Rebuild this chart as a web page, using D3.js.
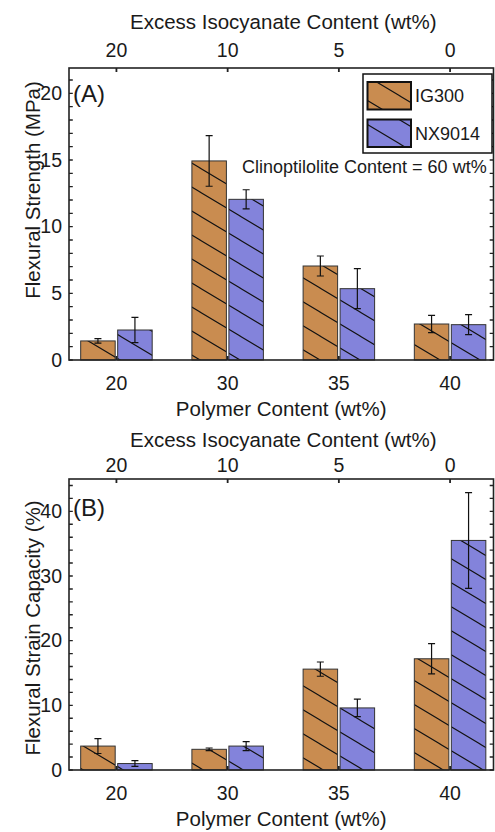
<!DOCTYPE html>
<html><head><meta charset="utf-8">
<script src="https://cdn.jsdelivr.net/npm/d3@7"></script>
<style>
html,body{margin:0;padding:0;background:#fff;}
svg{display:block;}
text{font-family:"Liberation Sans",Arial,sans-serif;fill:#1a1a1a;}
</style></head>
<body>
<script>
// ---- data ----
const polymerContent = ["20", "30", "35", "40"];
const isocyanateContent = ["20", "10", "5", "0"];
const seriesNames = ["IG300", "NX9014"];
const seriesColors = ["#C98C50", "#8383DB"];

const strengthIG300 = [1.43, 14.93, 7.05, 2.7];
const strengthIG300Err = [0.17, 1.9, 0.75, 0.65];
const strengthNX9014 = [2.25, 12.05, 5.35, 2.65];
const strengthNX9014Err = [0.95, 0.72, 1.5, 0.75];

const strainIG300 = [3.7, 3.2, 15.6, 17.2];
const strainIG300Err = [1.15, 0.2, 1.1, 2.35];
const strainNX9014 = [1.0, 3.7, 9.6, 35.5];
const strainNX9014Err = [0.45, 0.7, 1.35, 7.4];

const strengthTicks = [0, 5, 10, 15, 20];
const strainTicks = [0, 10, 20, 30, 40];

// ---- drawing ----
const W = 495, H = 832;
const svg = d3.select("body").append("svg").attr("width", W).attr("height", H);
const defs = svg.append("defs");
const pat = defs.append("pattern").attr("id", "hatch")
  .attr("patternUnits", "userSpaceOnUse").attr("width", 40).attr("height", 24);
pat.append("path").attr("d", "M-40,-24L80,48M-40,0L40,48M0,-24L80,24")
  .attr("stroke", "#111").attr("stroke-width", 1.1).attr("fill", "none");

const frameL = 69, frameR = 493.5;
const x = d3.scaleLinear().domain([0.5735, 4.3905]).range([frameL, frameR]);
const barW = 34.5, gap = 1.25;

function panel(cfg) {
  const g = svg.append("g");
  const y = d3.scaleLinear().domain([0, cfg.ymax]).range([cfg.bottom, cfg.top]);
  const series = [
    {name: seriesNames[0], vals: cfg.a, errs: cfg.aErr, color: seriesColors[0], side: -1},
    {name: seriesNames[1], vals: cfg.b, errs: cfg.bErr, color: seriesColors[1], side: 1}
  ];
  // bars
  series.forEach(s => {
    const bx = (i) => s.side < 0 ? x(i + 1) - gap - barW : x(i + 1) + gap;
    g.selectAll(null).data(s.vals).enter().append("rect")
      .attr("x", (d, i) => bx(i)).attr("width", barW)
      .attr("y", d => y(d)).attr("height", d => y(0) - y(d))
      .attr("fill", s.color);
    g.selectAll(null).data(s.vals).enter().append("rect")
      .attr("x", (d, i) => bx(i)).attr("width", barW)
      .attr("y", d => y(d)).attr("height", d => y(0) - y(d))
      .attr("fill", "url(#hatch)").attr("stroke", "#333").attr("stroke-width", 1);
  });
  // error bars
  series.forEach(s => {
    const cx = (i) => x(i + 1) + s.side * (gap + barW / 2);
    s.vals.forEach((v, i) => {
      const e = s.errs[i], c = cx(i);
      g.append("path")
        .attr("d", `M${c},${y(v - e)}V${y(v + e)}M${c - 3.5},${y(v - e)}H${c + 3.5}M${c - 3.5},${y(v + e)}H${c + 3.5}`)
        .attr("stroke", "#111").attr("stroke-width", 1.2).attr("fill", "none");
    });
  });
  // frame
  g.append("rect").attr("x", frameL).attr("y", cfg.top)
    .attr("width", frameR - frameL).attr("height", cfg.bottom - cfg.top)
    .attr("fill", "none").attr("stroke", "#222").attr("stroke-width", 1.6);
  // y ticks (inward on both sides)
  const minor = d3.range(0, cfg.ymax + 1e-9, cfg.minorStep);
  minor.forEach(t => {
    const yy = y(t);
    g.append("path").attr("d", `M${frameL},${yy}h3.8M${frameR},${yy}h-3.8`)
      .attr("stroke", "#222").attr("stroke-width", 1.4);
  });
  g.selectAll(null).data(cfg.ticks).enter().append("text")
    .attr("x", 62).attr("y", d => y(d)).attr("dy", "0.35em")
    .attr("text-anchor", "end").style("font-size", "19.5px").text(d => d);
  // x ticks top & bottom
  polymerContent.forEach((p, i) => {
    const xx = x(i + 1);
    g.append("path").attr("d", `M${xx},${cfg.top}v4M${xx},${cfg.bottom}v-4`)
      .attr("stroke", "#222").attr("stroke-width", 1.8);
  });
  g.selectAll(null).data(polymerContent).enter().append("text")
    .attr("x", (d, i) => x(i + 1)).attr("y", cfg.bottomTickY)
    .attr("text-anchor", "middle").style("font-size", "19.5px").text(d => d);
  g.selectAll(null).data(isocyanateContent).enter().append("text")
    .attr("x", (d, i) => x(i + 1)).attr("y", cfg.topTickY)
    .attr("text-anchor", "middle").style("font-size", "19.5px").text(d => d);
  // titles
  const cxm = (frameL + frameR) / 2;
  g.append("text").attr("x", cxm).attr("y", cfg.bottomTitleY).attr("text-anchor", "middle")
    .style("font-size", "20.5px").text("Polymer Content (wt%)");
  g.append("text").attr("x", cxm + 2).attr("y", cfg.topTitleY).attr("text-anchor", "middle")
    .style("font-size", "20.5px").text("Excess Isocyanate Content (wt%)");
  g.append("text").attr("transform", `translate(40,${cfg.yTitleC}) rotate(-90)`)
    .attr("text-anchor", "middle").style("font-size", "20.5px").text(cfg.yTitle);
  g.append("text").attr("x", 73).attr("y", cfg.labelY).style("font-size", "24px").text(cfg.label);
  return {g, y};
}

const A = panel({
  top: 68, bottom: 360, ymax: 21.9, minorStep: 1, ticks: strengthTicks,
  a: strengthIG300, aErr: strengthIG300Err, b: strengthNX9014, bErr: strengthNX9014Err,
  topTitleY: 29, topTickY: 57, bottomTickY: 390, bottomTitleY: 416,
  yTitle: "Flexural Strength (MPa)", yTitleC: 190, label: "(A)", labelY: 102
});
const B = panel({
  top: 479, bottom: 770, ymax: 45, minorStep: 2, ticks: strainTicks,
  a: strainIG300, aErr: strainIG300Err, b: strainNX9014, bErr: strainNX9014Err,
  topTitleY: 447, topTickY: 472, bottomTickY: 800, bottomTitleY: 826,
  yTitle: "Flexural Strain Capacity (%)", yTitleC: 628, label: "(B)", labelY: 516
});

// annotation
A.g.append("text").attr("x", 242).attr("y", 173).style("font-size", "18px")
  .text("Clinoptilolite Content = 60 wt%");

// legend
const lg = A.g.append("g");
lg.append("rect").attr("x", 363).attr("y", 74).attr("width", 129).attr("height", 79)
  .attr("fill", "#fff").attr("stroke", "#111").attr("stroke-width", 1.5);
seriesNames.forEach((n, i) => {
  const yy = 82 + i * 37.5;
  lg.append("rect").attr("x", 367.5).attr("y", yy).attr("width", 43.5).attr("height", 27.5)
    .attr("fill", seriesColors[i]);
  lg.append("rect").attr("x", 367.5).attr("y", yy).attr("width", 43.5).attr("height", 27.5)
    .attr("fill", "url(#hatch)").attr("stroke", "#111").attr("stroke-width", 2);
  lg.append("text").attr("x", 415).attr("y", yy + 20).style("font-size", "18px").text(n);
});
</script>
</body></html>
